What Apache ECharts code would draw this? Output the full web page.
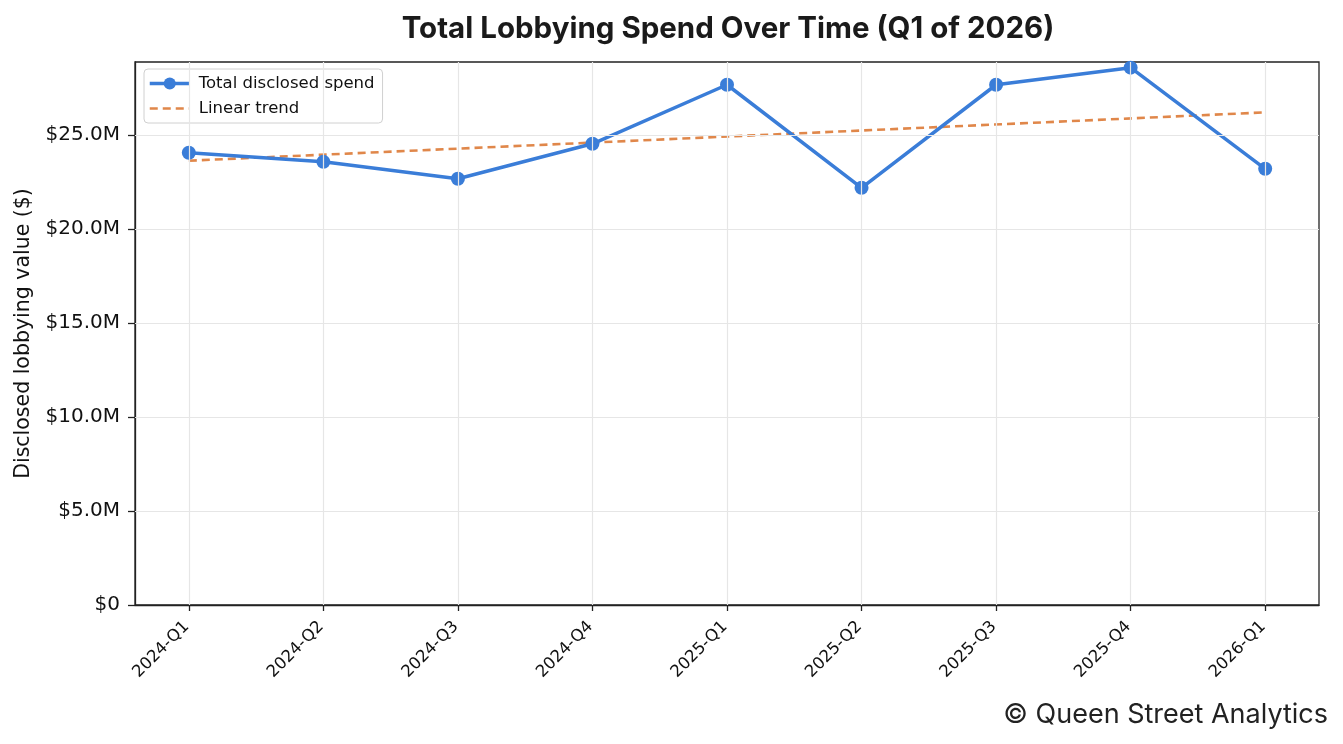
<!DOCTYPE html>
<html>
<head>
<meta charset="utf-8">
<script src="https://cdn.jsdelivr.net/npm/echarts@6/dist/echarts.min.js"></script>
<style>
  html, body { margin: 0; padding: 0; background: #fff; }
  #chart { width: 1343px; height: 744px; }
</style>
</head>
<body>
<div id="chart"></div>
<script>
// quarters on the x axis
var quarters = ['2024-Q1', '2024-Q2', '2024-Q3', '2024-Q4', '2025-Q1', '2025-Q2', '2025-Q3', '2025-Q4', '2026-Q1'];

// total disclosed spend, dollars
var totalSpend = [24.05e6, 23.57e6, 22.67e6, 24.53e6, 27.67e6, 22.19e6, 27.67e6, 28.58e6, 23.2e6];

// linear trend, value at first and last quarter
var trendEnds = [23.63e6, 26.2e6];

var yTicks = [0, 5e6, 10e6, 15e6, 20e6, 25e6];
var yMax = 28.88e6;

var blue = '#3a7dd8';
var orange = '#e0874a';

var myChart = echarts.init(document.getElementById('chart'));

function fmtMoney(v) {
    if (v === 0) return '$0';
    return '$' + (v / 1e6).toFixed(1) + 'M';
}

var spendData = totalSpend.map(function (v, i) { return [i, v]; });
var trendData = [[0, trendEnds[0]], [quarters.length - 1, trendEnds[1]]];

var idx = quarters.map(function (q, i) { return i; });

var option = {
    animation: false,
    backgroundColor: '#fff',
    title: {
        text: 'Total Lobbying Spend Over Time (Q1 of 2026)',
        left: 723,
        top: 9,
        textAlign: 'center',
        textStyle: {
            fontFamily: 'Inter',
            fontWeight: 'bold',
            fontSize: 29.5,
            color: '#1a1a1a'
        }
    },
    grid: {
        left: 135,
        right: 24,
        top: 62,
        bottom: 139,
        show: true,
        borderColor: '#222',
        borderWidth: 1.3,
        containLabel: false
    },
    legend: {
        left: 144,
        top: 69,
        orient: 'vertical',
        itemWidth: 40,
        itemHeight: 15,
        itemGap: 8,
        padding: [6, 8, 6, 4],
        borderColor: '#d0d0d0',
        borderWidth: 1,
        borderRadius: 4,
        backgroundColor: 'rgba(255,255,255,0.85)',
        textStyle: { fontFamily: 'DejaVu Sans', fontSize: 16.5, color: '#111', padding: [0, 0, 0, 4] },
        data: [
            { name: 'Total disclosed spend', lineStyle: { width: 3.5 } },
            { name: 'Linear trend', itemStyle: { opacity: 0 }, lineStyle: { width: 2.5 } }
        ]
    },
    xAxis: {
        type: 'value',
        min: -0.4,
        max: quarters.length - 1 + 0.4,
        axisLine: { show: true, onZero: false, lineStyle: { color: '#222', width: 1.3 } },
        axisTick: {
            show: true,
            length: 6,
            customValues: idx,
            lineStyle: { color: '#222', width: 1.3 }
        },
        axisLabel: {
            customValues: idx,
            rotate: 45,
            margin: 17,
            fontFamily: 'DejaVu Sans',
            fontSize: 16.5,
            color: '#111',
            padding: [0, 3, 0, 0],
            formatter: function (v) { return quarters[Math.round(v)]; }
        },
        splitLine: { show: false }
    },
    yAxis: {
        type: 'value',
        min: 0,
        max: yMax,
        name: 'Disclosed lobbying value ($)',
        nameLocation: 'middle',
        nameGap: 101,
        nameTextStyle: { fontFamily: 'DejaVu Sans', fontSize: 20.5, color: '#111' },
        axisLine: { show: true, onZero: false, lineStyle: { color: '#222', width: 1.3 } },
        axisTick: {
            show: true,
            length: 7,
            customValues: yTicks,
            lineStyle: { color: '#222', width: 1.3 }
        },
        axisLabel: {
            customValues: yTicks,
            margin: 15,
            fontFamily: 'DejaVu Sans',
            fontSize: 20,
            color: '#111',
            formatter: fmtMoney
        },
        splitLine: { show: false }
    },
    series: [
        {
            name: 'grid',
            type: 'line',
            data: [],
            silent: true,
            markLine: {
                silent: true,
                symbol: 'none',
                label: { show: false },
                lineStyle: { color: '#e6e6e6', width: 1.2, type: 'solid' },
                data: idx.map(function (i) { return { xAxis: i }; })
                    .concat(yTicks.slice(1).map(function (v) { return { yAxis: v }; }))
            }
        },
        {
            name: 'Linear trend',
            type: 'line',
            data: trendData,
            symbol: 'none',
            z: 3,
            lineStyle: { color: orange, width: 2.6, type: [8, 5] },
            itemStyle: { color: orange }
        },
        {
            name: 'Total disclosed spend',
            type: 'line',
            data: spendData,
            symbol: 'circle',
            symbolSize: 14,
            z: 4,
            lineStyle: { color: blue, width: 3.5 },
            itemStyle: { color: blue }
        }
    ],
    graphic: [
        {
            type: 'text',
            right: 15,
            bottom: 16,
            style: {
                text: '© Queen Street Analytics',
                fontFamily: 'Inter',
                fontSize: 27,
                fill: '#222'
            }
        }
    ]
};

myChart.setOption(option);
</script>
</body>
</html>
